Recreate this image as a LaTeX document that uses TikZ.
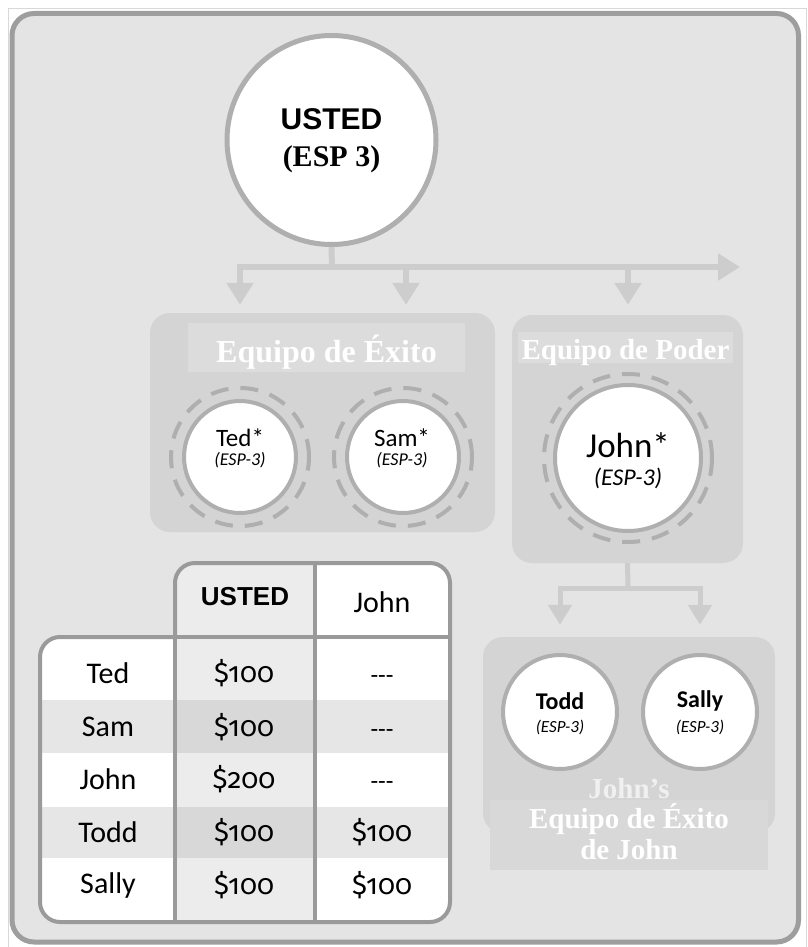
\documentclass[tikz,border=0pt]{standalone}
\usepackage{fontspec}
\setmainfont{Liberation Serif}
\newfontfamily\hum{Carlito}
\newfontfamily\numf[Numbers=OldStyle]{Fira Sans}
\newfontfamily\arl{Liberation Sans}
\usetikzlibrary{arrows.meta}
\definecolor{bgc}{HTML}{E4E4E4}
\definecolor{framec}{HTML}{9E9E9E}
\definecolor{edgec}{HTML}{D8D8D8}
\definecolor{boxc}{HTML}{D4D4D4}
\definecolor{bandc}{HTML}{DCDCDC}
\definecolor{jbandc}{HTML}{D8D8D8}
\definecolor{ringc}{HTML}{AFAFAF}
\definecolor{arrc}{HTML}{CDCDCD}
\definecolor{tabc}{HTML}{9A9A9A}
\definecolor{rowc}{HTML}{E6E6E6}
\definecolor{ucol}{HTML}{ECECEC}
\definecolor{urow}{HTML}{D8D8D8}
\definecolor{johnsc}{HTML}{F0F0F0}
\begin{document}
\begin{tikzpicture}[x=1pt,y=-1pt,
  member/.style={circle, fill=white, draw=ringc, line width=4pt, inner sep=0pt},
  ringd/.style={draw=ringc, line width=4pt, dash pattern=on 18pt off 12pt},
  conn/.style={draw=arrc, line width=6pt},
  conns/.style={draw=arrc, line width=5pt},
  teambox/.style={rectangle, fill=boxc, rounded corners=20pt, inner sep=0pt},
  nm/.style={font=\hum\fontsize{25}{28}\selectfont, inner sep=0pt},
  nmb/.style={font=\hum\bfseries\fontsize{24}{27}\selectfont, inner sep=0pt},
  espf/.style={font=\hum\itshape\fontsize{18}{20}\selectfont, inner sep=0pt},
  tl/.style={font=\bfseries\fontsize{#1}{31}\selectfont, text=white, inner sep=0pt, align=center},
  tt/.style={font=\hum\fontsize{30}{32}\selectfont, inner sep=0pt},
  tn/.style={font=\numf\fontsize{28}{30}\selectfont, inner sep=0pt},
  tdash/.style={font=\hum\fontsize{25}{28}\selectfont, inner sep=0pt}
]
\useasboundingbox (0,0) rectangle (807,947);
\fill[white] (0,0) rectangle (807,947);
\draw[edgec, line width=1pt] (8.5,8.5) rectangle (806.5,947);
% outer frame
\draw[framec, line width=5pt, fill=bgc, rounded corners=22pt] (12,13.5) rectangle (798.5,942);

% top circle
\node[member, line width=5pt, minimum size=209pt] (usted) at (331.5,140) {};
\node[font=\arl\bfseries\fontsize{30}{32}\selectfont, inner sep=0pt] (ustedt) at (331.5,119) {USTED};
\node[font=\bfseries\fontsize{30}{32}\selectfont, inner sep=0pt] (ustede) at (331.5,159) {(ESP 3)};

% team boxes
\node[teambox, minimum width=345pt, minimum height=219pt] (exito) at (322.5,422.5) {};
\node[teambox, minimum width=231pt, minimum height=248pt] (poder) at (627.5,439) {};
\node[teambox, minimum width=292pt, minimum height=196pt] (jbox) at (629,735) {};

% bands and titles
\fill[bandc] (188,323) rectangle (465,372);
\fill[bandc] (518,332) rectangle (733,363);
\fill[jbandc] (490,800) rectangle (768,870);
\node[tl=32] (exitot) at (326.5,352) {Equipo de Éxito};
\node[tl=29] (podert) at (625.5,353) {Equipo de Poder};
\node[tl=29, text=johnsc] (johnst) at (629,789) {John’s};
\node[tl=29] (jteamt) at (629,832) {Equipo de Éxito\\de John};

% connectors
\coordinate (hm) at (332,267);
\coordinate (hl) at (240,267);
\coordinate (hr) at (740,267);
\coordinate (b2) at (406,267);
\coordinate (b3) at (628,267);
\draw[conn] (usted.south) -- (hm);
\draw[conn, {Triangle[width=26pt,length=22pt]}-{Triangle[width=26pt,length=22pt]}, shorten <=8pt] (hl |- exito.north) -- (hl) -- (hr);
\draw[conn, -{Triangle[width=26pt,length=22pt]}, shorten >=8pt] (b2) -- (b2 |- exito.north);
\draw[conn, -{Triangle[width=26pt,length=22pt]}, shorten >=10pt] (b3) -- (b3 |- poder.north);

\coordinate (jm) at (628,588);
\coordinate (jl) at (560,588);
\coordinate (jr) at (700,588);
\draw[conns] (poder.south) -- (jm);
\draw[conns, {Triangle[width=23pt,length=20pt]}-{Triangle[width=23pt,length=20pt]}, shorten <=12pt, shorten >=12pt] (jl |- jbox.north) -- (jl) -- (jr) -- (jr |- jbox.north);

% members
\draw[ringd] (240,457) circle[radius=69pt];
\draw[ringd] (403,457) circle[radius=69pt];
\draw[ringd] (628,458) circle[radius=84pt];
\node[member, minimum size=112pt] (ted) at (240,457) {};
\node[member, minimum size=112pt] (sam) at (403,457) {};
\node[member, minimum size=146pt] (john) at (628,458) {};
\node[member, minimum size=114pt] (todd) at (560,712) {};
\node[member, minimum size=114pt] (sally) at (700,712) {};

\node[nm] (tedn) at (240,438) {Ted*};
\node[espf] (tede) at (240,460) {(ESP-3)};
\node[nm] (samn) at (402,438) {Sam*};
\node[espf] (same) at (402,460) {(ESP-3)};
\node[nm, font=\hum\fontsize{35}{38}\selectfont] (johnn) at (628,445) {John*};
\node[espf, font=\hum\itshape\fontsize{24}{26}\selectfont] (johne) at (628,478) {(ESP-3)};
\node[nmb] (toddn) at (560,701) {Todd};
\node[espf, font=\hum\itshape\fontsize{17}{19}\selectfont] (todde) at (560,727) {(ESP-3)};
\node[nmb] (sallyn) at (700,701) {Sally};
\node[espf, font=\hum\itshape\fontsize{17}{19}\selectfont] (sallye) at (700,727) {(ESP-3)};

% table
\begin{scope}
\clip (175,637) [rounded corners=20pt] -- (175,563) -- (450,563) -- (450,922) -- (40,922) -- (40,637) -- (175,637);
\fill[white] (30,550) rectangle (460,930);
\fill[ucol] (175,550) rectangle (315,930);
\fill[rowc] (30,700) rectangle (460,753);
\fill[rowc] (30,807) rectangle (460,858);
\fill[urow] (175,700) rectangle (315,753);
\fill[urow] (175,807) rectangle (315,858);
\end{scope}
\draw[tabc, line width=4pt] (175,637) -- (175,922);
\draw[tabc, line width=4pt] (315,563) -- (315,922);
\draw[tabc, line width=4pt] (175,637) -- (450,637);
\draw[tabc, line width=4pt, line cap=rect] (175,637) [rounded corners=20pt] -- (175,563) -- (450,563) -- (450,922) -- (40,922) -- (40,637) -- (175,637);

\node[font=\arl\bfseries\fontsize{26}{28}\selectfont, inner sep=0pt] (hu) at (245,597) {USTED};
\node[tt] (hj) at (382,602) {John};

\node[tt] (r1) at (108,673) {Ted};
\node[tt] (r2) at (108,727) {Sam};
\node[tt] (r3) at (108,779) {John};
\node[tt] (r4) at (108,832) {Todd};
\node[tt] (r5) at (108,885) {Sally};

\node[tn] (u1) at (244,673) {\$100};
\node[tn] (u2) at (244,727) {\$100};
\node[tn] (u3) at (244,779) {\$200};
\node[tn] (u4) at (244,832) {\$100};
\node[tn] (u5) at (244,885) {\$100};

\node[tdash] (j1) at (382,680) {\mbox{-}\mbox{-}\mbox{-}};
\node[tdash] (j2) at (382,734) {\mbox{-}\mbox{-}\mbox{-}};
\node[tdash] (j3) at (382,786) {\mbox{-}\mbox{-}\mbox{-}};
\node[tn] (j4) at (382,832) {\$100};
\node[tn] (j5) at (382,885) {\$100};
\end{tikzpicture}
\end{document}
